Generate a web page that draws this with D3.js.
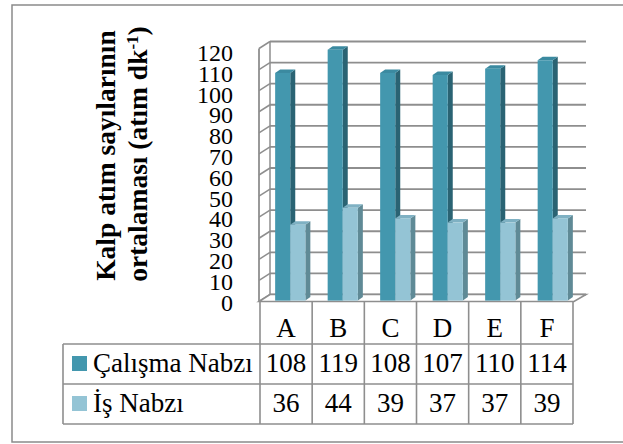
<!DOCTYPE html>
<html>
<head>
<meta charset="utf-8">
<script src="https://cdn.jsdelivr.net/npm/d3@7"></script>
<style>
  html, body { margin: 0; padding: 0; background: #fff; }
  svg { display: block; }
  text { font-family: "Liberation Serif", "DejaVu Serif", serif; fill: #000; }
</style>
</head>
<body>
<svg id="chart" width="623" height="444"></svg>
<script>
// ---- data ----
const categories = ["A", "B", "C", "D", "E", "F"];
const seriesNames = ["Çalışma Nabzı", "İş Nabzı"];
const calismaNabzi = [108, 119, 108, 107, 110, 114];
const isNabzi = [36, 44, 39, 37, 37, 39];
const yTicks = [0, 10, 20, 30, 40, 50, 60, 70, 80, 90, 100, 110, 120];
const titleLine1 = "Kalp atım sayılarının";
const titleLine2 = "ortalaması (atım dk";
const titleSup = "-1";

const seriesValues = [calismaNabzi, isNabzi];
const colors = [
  { front: "#4397ae", side: "#2a6373", top: "#3b8aa0" },
  { front: "#94c4d5", side: "#5f8a96", top: "#7fb1c3" }
];
const gridColor = "#8e8e8e";

const svg = d3.select("#chart");

// ---- scales ----
const yFront = d3.scaleLinear().domain([0, 120]).range([301.5, 48.5]);
const yBack = d3.scaleLinear().domain([0, 120]).range([294.5, 41.5]);
const yLabel = d3.scaleLinear().domain([0, 120]).range([302.5, 52.8]);
const yBar = d3.scaleLinear().domain([0, 120]).range([300.6, 47.6]);
const xCol = d3.scaleBand().domain(categories).range([260, 573]);
const xBar = d3.scaleBand().domain(categories).range([264, 579]).paddingInner(0.425).paddingOuter(0.2125);
const xSeries = d3.scaleBand().domain([0, 1]).range([0, xBar.bandwidth()]);

const wallFrontX = 259, wallBackX = 270, wallRightX = 586, floorFrontRightX = 574;
const barDX = 5, barDY = -3.5;

// outer border
svg.append("rect").attr("x", 12).attr("y", 5).attr("width", 640).attr("height", 437)
  .attr("fill", "#fff").attr("stroke", "#8a8a8a").attr("stroke-width", 1.5);

// back wall gridlines
const g = svg.append("g");
g.selectAll("line.grid").data(yTicks).join("line")
  .attr("x1", wallBackX).attr("x2", wallRightX)
  .attr("y1", d => yBack(d)).attr("y2", d => yBack(d))
  .attr("stroke", gridColor).attr("stroke-width", 1.8);
g.append("line").attr("x1", wallBackX).attr("x2", wallBackX)
  .attr("y1", yBack(0)).attr("y2", yBack(120))
  .attr("stroke", gridColor).attr("stroke-width", 1.5);

// left wall
g.selectAll("line.side").data(yTicks).join("line")
  .attr("x1", wallFrontX).attr("x2", wallBackX)
  .attr("y1", d => yFront(d)).attr("y2", d => yBack(d))
  .attr("stroke", gridColor).attr("stroke-width", 1.5);
g.append("line").attr("x1", wallFrontX).attr("x2", wallFrontX)
  .attr("y1", yFront(0)).attr("y2", yFront(120))
  .attr("stroke", gridColor).attr("stroke-width", 1.8);

// floor
g.append("polygon")
  .attr("points", [[wallFrontX, yFront(0)], [floorFrontRightX, yFront(0)], [wallRightX, yBack(0)], [wallBackX, yBack(0)]].map(p => p.join(",")).join(" "))
  .attr("fill", "#fff").attr("stroke", gridColor).attr("stroke-width", 1.6);

// bars
const bars = svg.append("g");
categories.forEach((c, i) => {
  seriesValues.forEach((vals, s) => {
    const x = xBar(c) + xSeries(s);
    const w = xSeries.bandwidth();
    const y = yBar(vals[i]);
    const b = yBar(0);
    const col = colors[s];
    bars.append("polygon")
      .attr("points", [[x + w, y], [x + w + barDX, y + barDY], [x + w + barDX, b + barDY], [x + w, b]].map(p => p.join(",")).join(" "))
      .attr("fill", col.side);
    bars.append("polygon")
      .attr("points", [[x, y], [x + barDX, y + barDY], [x + w + barDX, y + barDY], [x + w, y]].map(p => p.join(",")).join(" "))
      .attr("fill", col.top);
    bars.append("rect").attr("x", x).attr("y", y).attr("width", w).attr("height", b - y)
      .attr("fill", col.front);
  });
});

// y tick labels
svg.append("g").selectAll("text").data(yTicks).join("text")
  .attr("x", 233).attr("y", d => yLabel(d)).attr("dy", "0.34em")
  .attr("text-anchor", "end").attr("font-size", 24).text(d => d);

// title
const title = svg.append("g").attr("font-weight", "bold").attr("font-size", 27.5);
title.append("text").attr("transform", "translate(115,155.5) rotate(-90)")
  .attr("text-anchor", "middle").text(titleLine1);
const t2 = title.append("text").attr("transform", "translate(147,154) rotate(-90)")
  .attr("text-anchor", "middle");
t2.append("tspan").text(titleLine2);
t2.append("tspan").attr("baseline-shift", "super").attr("font-size", 17).text(titleSup);
t2.append("tspan").text(")");

// data table
const table = svg.append("g");
const tableLeft = 63, rowTops = [344, 384, 424];
const lineStyle = sel => sel.attr("stroke", gridColor).attr("stroke-width", 1.6);
rowTops.forEach(y => table.append("line").attr("x1", tableLeft).attr("x2", xCol.range()[1]).attr("y1", y).attr("y2", y).call(lineStyle));
table.append("line").attr("x1", tableLeft).attr("x2", tableLeft).attr("y1", rowTops[0]).attr("y2", rowTops[2]).call(lineStyle);
const colEdges = categories.map(c => xCol(c)).concat([xCol.range()[1]]);
table.selectAll("line.col").data(colEdges).join("line")
  .attr("x1", d => d).attr("x2", d => d).attr("y1", yFront(0)).attr("y2", rowTops[2]).call(lineStyle);

const fs = 27;
table.selectAll("text.cat").data(categories).join("text")
  .attr("x", d => xCol(d) + xCol.bandwidth() / 2).attr("y", 337)
  .attr("text-anchor", "middle").attr("font-size", fs).text(d => d);
const rowBase = [372, 412];
seriesValues.forEach((vals, s) => {
  table.append("g").selectAll("text").data(vals).join("text")
    .attr("x", (d, i) => xCol(categories[i]) + xCol.bandwidth() / 2).attr("y", rowBase[s])
    .attr("text-anchor", "middle").attr("font-size", fs).text(d => d);
  table.append("rect").attr("x", 72).attr("y", rowBase[s] - 16).attr("width", 15).attr("height", 15)
    .attr("fill", colors[s].front);
  table.append("text").attr("x", 93).attr("y", rowBase[s]).attr("font-size", fs).text(seriesNames[s]);
});
</script>
</body>
</html>
